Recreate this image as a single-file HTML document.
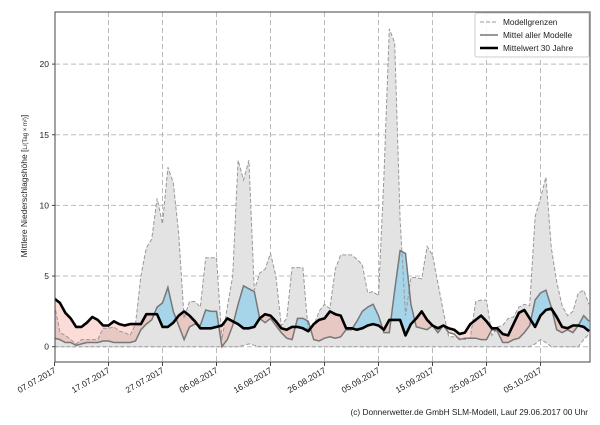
<!DOCTYPE html>
<html><head><meta charset="utf-8"><style>
body{margin:0;background:#fff;width:600px;height:420px;overflow:hidden}
text{font-family:"Liberation Sans","DejaVu Sans",sans-serif;fill:#222}
</style></head><body>
<svg id="s" width="600" height="420" xmlns="http://www.w3.org/2000/svg">
<defs>
<clipPath id="plot"><rect x="55" y="12" width="535" height="350"/></clipPath>
<clipPath id="aboveB"><path id="cAB"/></clipPath>
<clipPath id="aboveM"><path id="cAM"/></clipPath>
</defs>
<rect x="55" y="12" width="535" height="350" fill="#fff"/>
<g id="grid" stroke="#bbb" stroke-width="1" stroke-dasharray="5,3"></g>
<g clip-path="url(#plot)">
<path id="gray" fill="#e3e3e3" stroke="none"/>
<g clip-path="url(#aboveB)"><path id="blue" fill="#a6d5ea"/></g>
<g clip-path="url(#aboveM)"><path id="red" fill="rgba(245,140,120,0.3)"/></g>
<path id="up" fill="none" stroke="#999" stroke-width="1" stroke-dasharray="4,2"/>
<path id="lo" fill="none" stroke="#999" stroke-width="1" stroke-dasharray="4,2"/>
<path id="mean" fill="none" stroke="#777" stroke-width="1.5"/>
<path id="blk" fill="none" stroke="#000" stroke-width="2.6" stroke-linejoin="round"/>
</g>
<rect x="55" y="12" width="535" height="350" fill="none" stroke="#444" stroke-width="1"/>
<g id="ticks"></g>
<text transform="translate(27,186) rotate(-90)" font-size="8.5" text-anchor="middle">Mittlere Niederschlagshöhe [<tspan font-size="6">L/(Tag × m²)</tspan>]</text>
<rect x="475" y="13" width="114" height="44" fill="#fff" fill-opacity="0.85" stroke="#ccc" rx="2"/>
<line x1="480" y1="22" x2="498" y2="22" stroke="#999" stroke-dasharray="4,2"/>
<line x1="480" y1="35" x2="498" y2="35" stroke="#777" stroke-width="1.5"/>
<line x1="480" y1="48" x2="498" y2="48" stroke="#000" stroke-width="2.6"/>
<text x="503" y="25" font-size="8.3">Modellgrenzen</text>
<text x="503" y="38" font-size="8.3">Mittel aller Modelle</text>
<text x="503" y="51" font-size="8.3">Mittelwert 30 Jahre</text>
<text x="588" y="415" font-size="8.3" text-anchor="end">(c) Donnerwetter.de GmbH SLM-Modell, Lauf 29.06.2017 00 Uhr</text>
</svg>
<script>
var B=[3.4,3.1,2.4,2.0,1.4,1.4,1.7,2.1,1.9,1.5,1.5,1.8,1.6,1.5,1.6,1.6,1.6,2.3,2.3,2.3,1.4,1.4,1.7,2.2,2.5,2.2,1.8,1.3,1.3,1.3,1.4,1.5,2.0,1.8,1.6,1.3,1.3,1.4,2.0,2.3,2.2,1.8,1.3,1.2,1.4,1.4,1.3,1.1,1.6,1.9,2.0,2.5,2.3,2.2,1.3,1.3,1.2,1.3,1.5,1.6,1.5,1.2,1.9,1.9,1.9,0.8,1.6,2.0,2.5,1.9,1.5,1.3,1.5,1.3,1.2,0.9,1.0,1.6,1.9,2.2,1.8,1.3,1.3,0.9,0.8,1.6,2.4,2.6,2.0,1.4,2.2,2.6,2.7,2.1,1.4,1.3,1.5,1.5,1.4,1.1];
var M=[0.6,0.5,0.3,0.3,0.1,0.2,0.3,0.3,0.3,0.4,0.4,0.3,0.3,0.3,0.3,0.4,1.2,1.6,1.9,2.8,3.1,4.2,2.5,1.5,0.5,1.4,1.6,1.5,2.6,2.5,2.5,0.0,0.5,1.5,3.0,4.3,4.1,3.9,2.0,1.7,2.0,1.5,1.0,0.6,0.5,2.0,2.0,1.8,0.5,0.4,0.6,0.7,0.6,0.7,1.2,1.2,1.8,2.5,2.8,3.0,2.2,1.0,1.0,4.0,6.8,6.6,3.0,1.4,1.3,1.2,1.5,1.0,1.5,1.0,0.9,0.5,0.6,0.6,0.6,0.5,0.5,1.2,1.1,0.3,0.3,0.5,0.6,1.0,1.5,3.3,3.8,4.0,2.8,1.2,1.0,1.2,1.0,1.5,2.2,1.8];
var U=[3.0,1.0,0.8,0.5,0.2,0.5,0.5,0.5,0.5,1.3,1.3,1.4,1.1,1.0,0.8,1.6,5.0,7.0,7.6,10.5,8.7,12.7,11.6,8.0,2.0,3.2,3.2,2.8,6.3,6.3,6.3,0.5,2.8,5.0,13.2,11.8,13.2,4.0,5.2,5.5,6.6,5.0,1.5,2.0,5.6,5.6,5.6,1.0,1.5,2.5,3.0,2.7,5.5,6.5,6.5,6.5,6.2,5.8,3.8,3.9,3.6,12.0,22.5,21.5,9.0,2.2,4.9,4.9,4.8,7.1,6.5,4.5,2.5,0.7,0.7,0.6,0.5,0.6,3.2,3.3,3.3,0.8,1.4,1.5,2.0,2.1,2.8,3.0,2.9,9.2,10.5,12.0,7.0,4.6,2.9,2.2,2.5,3.8,4.0,3.0];
var L=B.map(function(){return 0});L[35]=0.1;L[36]=0.2;L[37]=0.1;L[89]=0.2;L[90]=0.5;L[91]=0.3;L[98]=0.5;L[99]=0.9;
function X(d){return 54.5+5.4*d}function Y(v){return 346.7-14.13*v}
function line(a){return a.map(function(v,i){return (i?'L':'M')+X(i).toFixed(1)+','+Y(v).toFixed(1)}).join('')}
function rev(a){var s='';for(var i=a.length-1;i>=0;i--)s+='L'+X(i).toFixed(1)+','+Y(a[i]).toFixed(1);return s}
var n=B.length-1;
function g(id){return document.getElementById(id)}
g('gray').setAttribute('d',line(U)+rev(L)+'Z');
g('up').setAttribute('d',line(U));g('lo').setAttribute('d',line(L));
g('mean').setAttribute('d',line(M));g('blk').setAttribute('d',line(B));
g('cAB').setAttribute('d',line(B)+'L'+X(n)+',0L'+X(0)+',0Z');
g('cAM').setAttribute('d',line(M)+'L'+X(n)+',0L'+X(0)+',0Z');
g('blue').setAttribute('d',line(M)+'L'+X(n)+',400L'+X(0)+',400Z');
g('red').setAttribute('d',line(B)+'L'+X(n)+',400L'+X(0)+',400Z');
var gr='',tk='';
[0,5,10,15,20].forEach(function(v){var y=Y(v);gr+='<line x1="55" x2="590" y1="'+y+'" y2="'+y+'"/>';tk+='<line x1="52" x2="55" y1="'+y+'" y2="'+y+'" stroke="#444"/><text x="49" y="'+(y+3)+'" font-size="8.5" text-anchor="end">'+v+'</text>'});
var labs=['07.07.2017','17.07.2017','27.07.2017','06.08.2017','16.08.2017','26.08.2017','05.09.2017','15.09.2017','25.09.2017','05.10.2017'];
labs.forEach(function(l,i){var x=X(i*10);if(i)gr+='<line x1="'+x+'" x2="'+x+'" y1="12" y2="362"/>';tk+='<line x1="'+x+'" x2="'+x+'" y1="362" y2="366" stroke="#444"/><text transform="translate('+(x+2)+',372) rotate(-30)" font-size="8.5" text-anchor="end">'+l+'</text>'});
g('grid').innerHTML=gr;g('ticks').innerHTML=tk;
</script>
</body></html>
